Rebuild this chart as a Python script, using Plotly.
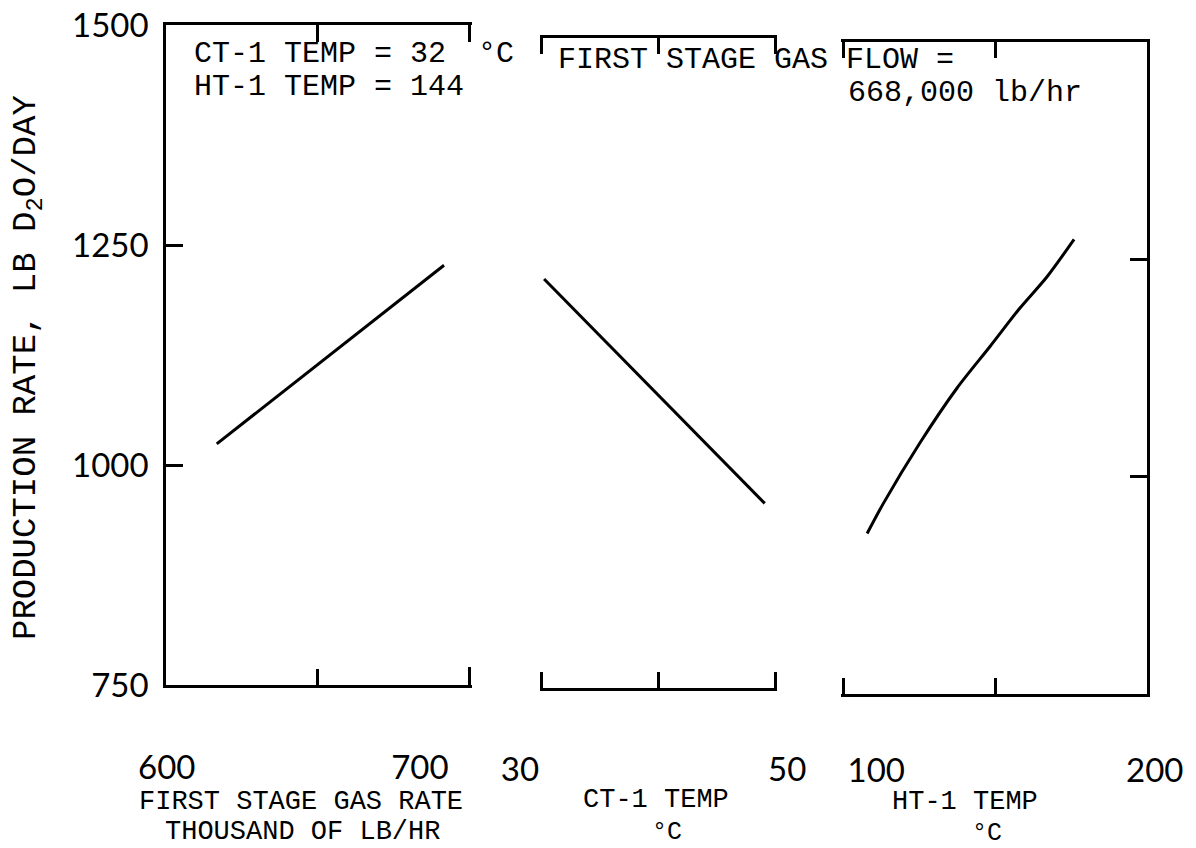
import plotly.graph_objects as go

W, H = 1196, 848

# ---------------- data ----------------
gas_rate = [616.7, 691.5]            # thousand lb/hr
prod_vs_gas = [1024, 1227]           # lb D2O/day

ct1_temp = [30.2, 49.1]              # deg C
prod_vs_ct1 = [1222, 963]

ht1_temp = [107.9, 113.2, 125.3, 137.5, 148.4, 158.2, 167.1, 176.0]
prod_vs_ht1 = [934.6, 969, 1039, 1102, 1150, 1194, 1230, 1273]

y_tickvals = [750, 1000, 1250, 1500]
y_ticktext = ["750", "1000", "1250", "1500"]

NB = "\u00a0"
x1_tickvals = [600, 700]
x1_ticktext = [NB * 12 + "600", "700"]
x1_minor = [650]
x1_top_ticks = [650, 700]
x2_tickvals = [30, 50]
x2_ticktext = ["30" + NB * 8, "50"]
x2_minor = [40]
x3_tickvals = [100, 200]
x3_ticktext = [NB * 5 + "100", "200" + NB]
x3_minor = [150]


def fx(px):
    return px / W


def fy(py):
    return 1 - py / H


LINE = dict(color="black", width=3)
MONO = "Liberation Mono, Courier New, monospace"
SANS = "Lato, Open Sans, sans-serif"

fig = go.Figure()
fig.add_trace(go.Scatter(x=gas_rate, y=prod_vs_gas, xaxis="x", yaxis="y",
                         mode="lines", line=LINE, showlegend=False))
# empty trace so the top (frame) axis of the first panel is drawn
fig.add_trace(go.Scatter(x=[None], y=[None], xaxis="x4", yaxis="y", mode="lines",
                         showlegend=False, hoverinfo="skip"))
fig.add_trace(go.Scatter(x=ct1_temp, y=prod_vs_ct1, xaxis="x2", yaxis="y2",
                         mode="lines", line=LINE, showlegend=False))
fig.add_trace(go.Scatter(x=ht1_temp, y=prod_vs_ht1, xaxis="x3", yaxis="y3",
                         mode="lines", line=dict(color="black", width=3, shape="spline", smoothing=0.8),
                         showlegend=False))

axis_common = dict(showgrid=False, zeroline=False, showline=True, linecolor="black",
                   linewidth=2.5, ticks="inside", tickcolor="black", tickwidth=2.5,
                   tickfont=dict(family=SANS, size=33, color="black"))
minor_common = dict(ticks="inside", ticklen=16, tickwidth=2.5, tickcolor="black", showgrid=False)

X1_DOM = [fx(166), fx(472)]
X1_RANGE = [600, 700.7]

fig.update_layout(
    width=W, height=H, autosize=False,
    margin=dict(l=0, r=0, t=0, b=0, pad=0, autoexpand=False),
    paper_bgcolor="white", plot_bgcolor="white",
    xaxis=dict(axis_common, domain=X1_DOM, range=X1_RANGE, anchor="y",
               mirror=False, tickmode="array", tickvals=x1_tickvals, ticktext=x1_ticktext,
               ticklen=18, ticklabelstandoff=52, ticklabelshift=-50,
               minor=dict(minor_common, tickmode="array", tickvals=x1_minor)),
    xaxis4=dict(axis_common, domain=X1_DOM, range=X1_RANGE, anchor="y", overlaying="x",
                side="top", tickmode="array", tickvals=x1_top_ticks, ticklen=17,
                showticklabels=False),
    xaxis2=dict(axis_common, domain=[fx(540), fx(777)], range=[29.85, 50.15], anchor="y2",
                mirror="ticks", tickmode="array", tickvals=x2_tickvals, ticktext=x2_ticktext,
                ticklen=16, ticklabelstandoff=51, ticklabelshift=12,
                minor=dict(minor_common, tickmode="array", tickvals=x2_minor)),
    xaxis3=dict(axis_common, domain=[fx(841), fx(1147)], range=[99.3, 200], anchor="y3",
                mirror="ticks", tickmode="array", tickvals=x3_tickvals, ticktext=x3_ticktext,
                ticklen=16, ticklabelstandoff=46, ticklabelshift=12,
                minor=dict(minor_common, tickmode="array", tickvals=x3_minor)),
    yaxis=dict(axis_common, domain=[fy(685), fy(25)], range=[750, 1500], anchor="x",
               side="left", tickmode="array", tickvals=y_tickvals, ticktext=y_ticktext,
               ticklen=17, ticklabelstandoff=8),
    yaxis2=dict(domain=[fy(688), fy(38)], range=[750, 1500], anchor="x2", visible=False,
                showgrid=False, zeroline=False),
    yaxis3=dict(axis_common, domain=[fy(694), fy(42)], range=[750, 1500], anchor="x3",
                side="right", tickmode="array", tickvals=[1000, 1250],
                showticklabels=False, ticklen=17),
)


def note(text, px, py, size=29, xanchor="left", yanchor="middle", angle=0):
    fig.add_annotation(text=text, x=fx(px), y=fy(py), xref="paper", yref="paper",
                       xanchor=xanchor, yanchor=yanchor, showarrow=False, textangle=angle,
                       font=dict(family=MONO, size=size, color="black"))


note("CT-1 TEMP = 32", 192, 54, size=30)
note("°C", 476, 54, size=30)
note("HT-1 TEMP = 144", 192, 87, size=30)
note("FIRST STAGE GAS FLOW =", 556, 60, size=30)
note("668,000 lb/hr", 846, 93, size=30)

note("FIRST STAGE GAS RATE", 301, 802, size=27, xanchor="center")
note("THOUSAND OF LB/HR", 302, 832, size=27, xanchor="center")
note("CT-1 TEMP", 656, 800, size=27, xanchor="center")
note("°C", 667, 832, size=25, xanchor="center")
note("HT-1 TEMP", 965, 802, size=27, xanchor="center")
note("°C", 987, 833, size=25, xanchor="center")

note("PRODUCTION RATE, LB D<sub>2</sub>O/DAY", 28, 368, size=34, xanchor="center", angle=-90)

fig.write_html("out.html")
